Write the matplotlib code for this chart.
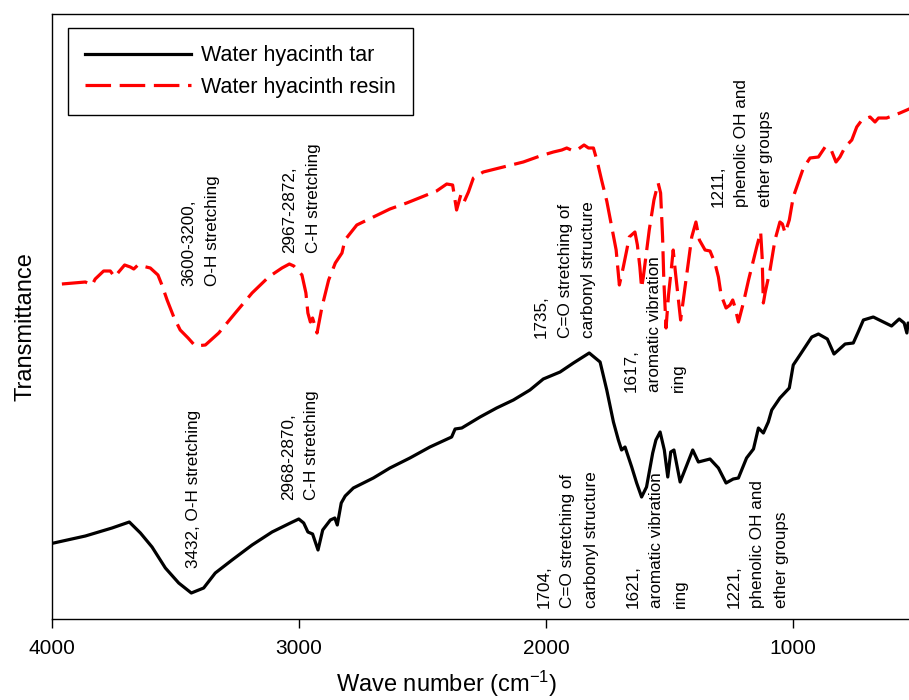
import matplotlib
matplotlib.use("Agg")
import matplotlib.pyplot as plt

plt.rcParams['font.family'] = ['Liberation Sans', 'DejaVu Sans']
plt.rcParams['mathtext.fontset'] = 'custom'
plt.rcParams['mathtext.rm'] = 'Liberation Sans'
plt.rcParams['mathtext.default'] = 'rm'

# spectra (transmittance in arbitrary units)
tar_wn = [3993, 3865, 3757, 3687, 3642, 3595, 3541, 3487, 3436, 3386,
          3339, 3271, 3190, 3109, 3035, 3001, 2981, 2964, 2945, 2923,
          2904, 2873, 2855, 2845, 2829, 2813, 2780, 2699, 2632, 2551,
          2470, 2382, 2368, 2341, 2267, 2200, 2132, 2065, 2011, 1943,
          1889, 1825, 1781, 1754, 1727, 1707, 1694, 1680, 1653, 1633,
          1613, 1593, 1568, 1555, 1538, 1521, 1507, 1495, 1482, 1457,
          1433, 1406, 1383, 1336, 1302, 1271, 1242, 1221, 1188, 1160,
          1140, 1120, 1100, 1086, 1053, 1015, 999, 972, 924, 897,
          861, 834, 789, 756, 736, 715, 675, 601, 570, 550,
          539, 534, 500]
tar_t = [76, 83, 91, 97, 86, 72, 51, 36, 26, 31,
         46, 59, 74, 87, 96, 100, 96, 87, 85, 69,
         89, 99, 101, 94, 116, 123, 131, 141, 151, 161,
         172, 182, 190, 191, 202, 211, 219, 229, 240, 247,
         256, 266, 257, 229, 197, 179, 169, 172, 152, 136,
         122, 132, 166, 179, 187, 169, 142, 167, 169, 137,
         152, 169, 157, 160, 151, 136, 140, 141, 161, 170,
         191, 186, 197, 209, 221, 231, 254, 264, 282, 285,
         280, 265, 275, 276, 287, 299, 302, 293, 300, 296,
         286, 296, 292]

resin_wn = [3960, 3865, 3838, 3825, 3791, 3764, 3746, 3730, 3706, 3683,
            3669, 3652, 3602, 3571, 3555, 3534, 3507, 3481, 3449, 3420,
            3379, 3325, 3258, 3190, 3123, 3069, 3039, 3021, 2988, 2972,
            2964, 2954, 2945, 2927, 2907, 2880, 2853, 2826, 2814, 2766,
            2699, 2632, 2564, 2503, 2443, 2402, 2378, 2362, 2345, 2332,
            2314, 2294, 2254, 2173, 2092, 2024, 1970, 1936, 1916, 1889,
            1869, 1846, 1828, 1808, 1792, 1775, 1754, 1734, 1724, 1716,
            1703, 1687, 1673, 1663, 1640, 1630, 1620, 1613, 1606, 1582,
            1563, 1546, 1536, 1528, 1523, 1514, 1504, 1493, 1485, 1477,
            1465, 1455, 1444, 1424, 1410, 1393, 1379, 1356, 1336, 1316,
            1302, 1291, 1271, 1255, 1244, 1235, 1221, 1201, 1180, 1160,
            1147, 1131, 1125, 1120, 1113, 1093, 1073, 1053, 1043, 1032,
            1015, 999, 979, 958, 931, 897, 870, 847, 826, 810,
            789, 762, 742, 721, 688, 668, 654, 621, 567, 530,
            500]
resin_t = [335, 337, 334, 340, 348, 348, 342, 347, 354, 352,
           350, 354, 351, 344, 334, 319, 302, 289, 281, 273,
           274, 286, 306, 326, 342, 351, 355, 353, 344, 326,
           306, 297, 301, 286, 312, 339, 356, 366, 379, 394,
           402, 410, 416, 422, 428, 435, 434, 409, 424, 417,
           427, 441, 447, 452, 457, 463, 467, 469, 471, 468,
           470, 474, 471, 471, 457, 439, 418, 392, 379, 369,
           334, 352, 369, 382, 387, 374, 352, 331, 342, 389,
           419, 436, 426, 382, 339, 291, 324, 349, 369, 349,
           322, 299, 319, 356, 382, 397, 379, 369, 368, 356,
           342, 324, 311, 314, 319, 312, 297, 316, 339, 359,
           372, 387, 362, 316, 326, 349, 379, 397, 395, 386,
           399, 422, 436, 451, 461, 462, 472, 470, 457, 462,
           472, 479, 492, 499, 502, 497, 501, 501, 506, 510,
           513]

# peak assignments: text, wavenumber, height of the text's start
notes = ["3600-3200,\nO-H stretching",
         "2967-2872,\nC-H stretching",
         "3432, O-H stretching",
         "2968-2870,\nC-H stretching",
         "1735,\nC=O stretching of\ncarbonyl structure",
         "1617,\naromatic vibration\nring",
         "1211,\nphenolic OH and\nether groups",
         "1704,\nC=O stretching of\ncarbonyl structure",
         "1621,\naromatic vibration\nring",
         "1221,\nphenolic OH and\nether groups"]
note_wn = [3399, 2990, 3429, 2996, 1923, 1559, 1207, 1911, 1551, 1142]
note_t = [333, 366, 51, 119, 281, 227, 412, 11, 11, 11]

fig = plt.figure(figsize=(9.09, 7.0), dpi=100)
ax = fig.add_axes([52 / 909, 81 / 700, 864.5 / 909, 605 / 700])

ax.plot(tar_wn, tar_t, color='black', lw=2.3, label='Water hyacinth tar')
ax.plot(resin_wn, resin_t, color='red', lw=2.3, dashes=(8, 2.7),
        label='Water hyacinth resin')

for txt, x, y in zip(notes, note_wn, note_t):
    ax.text(x, y, txt, rotation=90, ha='center', va='bottom',
            multialignment='left', fontsize=12.3, linespacing=1.72)

ax.set_xlim(4000, 500)
ax.set_ylim(0, 605)
ax.set_xticks([4000, 3000, 2000, 1000])
ax.set_yticks([])
ax.tick_params(axis='x', direction='out', length=6.5, width=1,
               labelsize=15, pad=8)
ax.spines['right'].set_visible(False)
for s in ['top', 'left', 'bottom']:
    ax.spines[s].set_linewidth(1.0)

ax.set_xlabel('Wave number (cm$^{-1}$)', fontsize=17)
ax.xaxis.label.set_va('center')
ax.xaxis.set_label_coords(0.456, -0.107)
ax.set_ylabel('Transmittance', fontsize=17)
ax.yaxis.label.set_va('center')
ax.yaxis.set_label_coords(-0.031, 0.483)

leg = ax.legend(loc='upper left', bbox_to_anchor=(68 / 909, 1 - 28 / 700),
                bbox_transform=fig.transFigure, borderaxespad=0,
                fontsize=15.5, handlelength=4.9, handletextpad=0.47,
                labelspacing=0.5, borderpad=0.8, fancybox=False,
                framealpha=1)
leg.get_frame().set_edgecolor('black')
leg.get_frame().set_linewidth(1.0)

fig.savefig('out.png', dpi=100)
